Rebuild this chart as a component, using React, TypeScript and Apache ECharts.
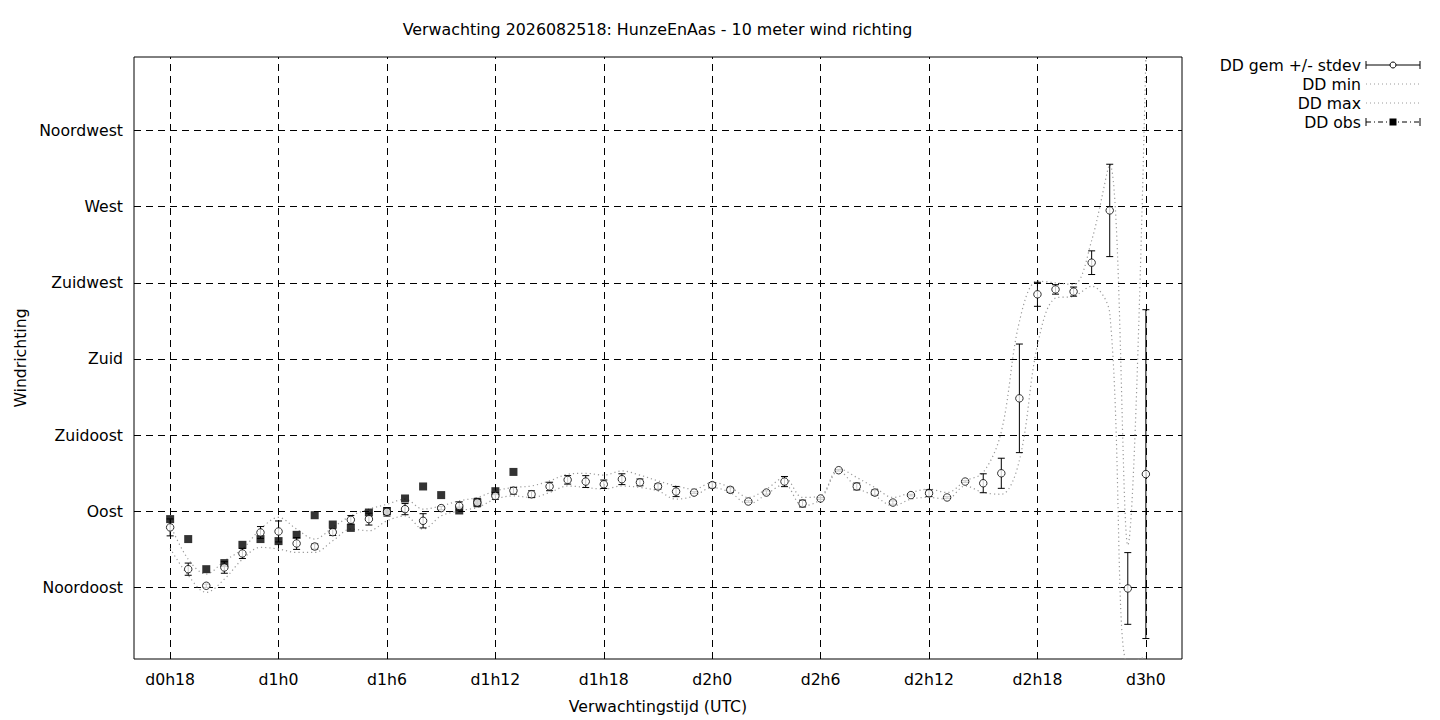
import { useEffect, useRef } from "react";
import * as echarts from "echarts";

const titleText = "Verwachting 2026082518: HunzeEnAas - 10 meter wind richting";

const hours = [
  18, 19, 20, 21, 22, 23, 24, 25, 26, 27, 28, 29, 30, 31, 32, 33, 34, 35, 36,
  37, 38, 39, 40, 41, 42, 43, 44, 45, 46, 47, 48, 49, 50, 51, 52, 53, 54, 55,
  56, 57, 58, 59, 60, 61, 62, 63, 64, 65, 66, 67, 68, 69, 70, 71, 72,
];

const ddGem = [
  80.4, 55.7, 45.9, 56.7, 65.0, 77.4, 78.0, 70.9, 69.1, 77.6, 84.9, 85.3, 89.6,
  91.2, 84.3, 91.8, 93.1, 95.1, 99.0, 102.1, 100.0, 104.6, 108.5, 107.5, 105.9,
  108.9, 107.0, 104.6, 101.6, 101.0, 105.4, 102.6, 95.7, 101.0, 107.5, 94.5,
  97.5, 114.2, 104.6, 101.0, 95.1, 99.5, 100.6, 98.1, 107.5, 106.5, 112.4,
  156.7, 218.2, 221.1, 219.8, 236.9, 267.8, 44.3, 111.9,
];

const ddStdev = [
  5.0, 3.6, 1.0, 3.4, 3.0, 3.5, 6.2, 3.5, 1.5, 2.0, 2.5, 3.5, 2.5, 3.3, 4.2,
  1.0, 2.4, 2.5, 2.0, 2.0, 2.0, 2.5, 2.5, 3.5, 2.5, 3.2, 2.0, 1.5, 3.0, 0.5,
  1.5, 1.5, 0.5, 1.0, 3.0, 2.0, 0.5, 0.5, 2.0, 1.5, 1.0, 0.5, 2.0, 0.5, 0.5,
  5.6, 8.9, 32.1, 7.1, 2.8, 2.7, 7.0, 27.3, 21.2, 97.2,
];

const ddMin = [
  68, 52, 42.0, 49.8, 61.6, 68.6, 67.6, 65.6, 65.6, 72.5, 79.4, 78.4, 84.3,
  87.2, 79.4, 87.2, 90.2, 92.2, 97.1, 99.0, 98.1, 101.0, 104.9, 104.0, 103.0,
  104.9, 104.0, 102.0, 97.1, 99.0, 104.0, 101.0, 94.1, 100.0, 105.9, 93.1,
  97.1, 113.8, 104.0, 99.0, 93.1, 97.1, 98.1, 97.1, 104.9, 101.0, 100.0, 120,
  188, 216, 217, 223, 207, 0, 4,
];

const ddMax = [
  82, 61.6, 52.8, 60.6, 67.6, 79.4, 86.3, 79.4, 73.5, 80.4, 87.2, 91.2, 94.1,
  97.1, 91.2, 93.1, 96.1, 98.1, 102.0, 104.0, 104.9, 107.9, 111.8, 112.4,
  111.3, 113.8, 111.3, 107.9, 104.9, 103.0, 107.0, 104.0, 98.1, 103.0, 109.9,
  98.1, 99.0, 115.2, 109.9, 104.0, 98.1, 101.0, 103.0, 101.0, 107.9, 112.9,
  137, 202, 226, 225, 224, 250, 295, 70, 359,
];

const obsHours = [
  18, 19, 20, 21, 22, 23, 24, 25, 26, 27, 28, 29, 30, 31, 32, 33, 34, 35, 36, 37,
];
const ddObs = [
  85.3, 73.5, 55.7, 59.3, 70.1, 73.5, 72.3, 76.0, 87.6, 82.1, 80.1, 89.2, 90.0,
  97.5, 104.6, 99.5, 90.4, 95.1, 101.8, 113.2,
];

const xTickHours = [18, 24, 30, 36, 42, 48, 54, 60, 66, 72];
const xTickLabels = [
  "d0h18", "d1h0", "d1h6", "d1h12", "d1h18", "d2h0", "d2h6", "d2h12", "d2h18", "d3h0",
];
const yTickValues = [45, 90, 135, 180, 225, 270, 315];
const yTickLabels = [
  "Noordoost", "Oost", "Zuidoost", "Zuid", "Zuidwest", "West", "Noordwest",
];

const legendNames = ["DD gem +/- stdev", "DD min", "DD max", "DD obs"];

const FONT = "DejaVu Sans";
const FS = 15.7;
const TITLE_FS = 15.85;
const DOT_COLOR = "#9a9a9a";

function buildOption() {
  const gemPoints = hours.map((h, i) => [h, ddGem[i]]);
  const errData = hours.map((h, i) => [h, ddGem[i] - ddStdev[i], ddGem[i] + ddStdev[i]]);
  const minPoints = hours.map((h, i) => [h, ddMin[i]]);
  const maxPoints = hours.map((h, i) => [h, ddMax[i]]);
  const obsPoints = obsHours.map((h, i) => [h, ddObs[i]]);

  const textStyle = { fontFamily: FONT, fontSize: FS, color: "#000" };

  const legendX = 1361;
  const sampleL = 1366;
  const sampleR = 1420;
  const sampleC = 1393;
  const rowY = [65, 84, 103, 122];

  const legendGraphics: any[] = [];
  legendNames.forEach((name, i) => {
    legendGraphics.push({
      type: "text",
      silent: true,
      style: {
        text: name,
        x: legendX,
        y: rowY[i],
        align: "right",
        verticalAlign: "middle",
        fontFamily: FONT,
        fontSize: FS,
        fill: "#000",
      },
    });
  });
  legendGraphics.push(
    { type: "line", silent: true, shape: { x1: sampleL, y1: rowY[0], x2: sampleR, y2: rowY[0] }, style: { stroke: "#000", lineWidth: 1 } },
    { type: "line", silent: true, shape: { x1: sampleL, y1: rowY[0] - 4, x2: sampleL, y2: rowY[0] + 4 }, style: { stroke: "#000", lineWidth: 1 } },
    { type: "line", silent: true, shape: { x1: sampleR, y1: rowY[0] - 4, x2: sampleR, y2: rowY[0] + 4 }, style: { stroke: "#000", lineWidth: 1 } },
    { type: "circle", silent: true, shape: { cx: sampleC, cy: rowY[0], r: 3 }, style: { fill: "#fff", stroke: "#000", lineWidth: 1 } },
    { type: "line", silent: true, shape: { x1: sampleL, y1: rowY[1], x2: sampleR, y2: rowY[1] }, style: { stroke: DOT_COLOR, lineWidth: 1, lineDash: [1, 3] } },
    { type: "line", silent: true, shape: { x1: sampleL, y1: rowY[2], x2: sampleR, y2: rowY[2] }, style: { stroke: DOT_COLOR, lineWidth: 1, lineDash: [1, 3] } },
    { type: "line", silent: true, shape: { x1: sampleL, y1: rowY[3], x2: sampleR, y2: rowY[3] }, style: { stroke: "#000", lineWidth: 1, lineDash: [5, 3, 1, 3] } },
    { type: "line", silent: true, shape: { x1: sampleL, y1: rowY[3] - 4, x2: sampleL, y2: rowY[3] + 4 }, style: { stroke: "#000", lineWidth: 1 } },
    { type: "line", silent: true, shape: { x1: sampleR, y1: rowY[3] - 4, x2: sampleR, y2: rowY[3] + 4 }, style: { stroke: "#000", lineWidth: 1 } },
    { type: "rect", silent: true, shape: { x: sampleC - 3.5, y: rowY[3] - 3.5, width: 7, height: 7 }, style: { fill: "#000" } }
  );

  return {
    animation: false,
    backgroundColor: "#fff",
    textStyle: { fontFamily: FONT },
    grid: {
      left: 134,
      top: 57,
      width: 1048,
      height: 602,
      show: true,
      borderColor: "#000",
      borderWidth: 1,
      backgroundColor: "transparent",
      containLabel: false,
    },
    graphic: [
      {
        type: "text",
        silent: true,
        style: {
          text: titleText,
          x: 657.5,
          y: 29,
          align: "center",
          verticalAlign: "middle",
          fontFamily: FONT,
          fontSize: TITLE_FS,
          fill: "#000",
        },
      },
      ...legendGraphics,
    ],
    xAxis: {
      type: "value",
      min: 16,
      max: 74,
      name: "Verwachtingstijd (UTC)",
      nameLocation: "middle",
      nameGap: 39,
      nameTextStyle: textStyle,
      axisLine: { show: false },
      axisTick: { show: true, inside: true, length: 6, customValues: xTickHours, lineStyle: { color: "#000" } },
      axisLabel: {
        ...textStyle,
        margin: 12,
        customValues: xTickHours,
        formatter: (v: number) => {
          const i = xTickHours.indexOf(v);
          return i >= 0 ? xTickLabels[i] : "";
        },
      },
      splitLine: { show: false },
    },
    yAxis: {
      type: "value",
      min: 2.6,
      max: 358.5,
      name: "Windrichting",
      nameLocation: "middle",
      nameGap: 106,
      nameTextStyle: textStyle,
      axisLine: { show: false },
      axisTick: { show: true, inside: true, length: 6, customValues: yTickValues, lineStyle: { color: "#000" } },
      axisLabel: {
        ...textStyle,
        margin: 11,
        customValues: yTickValues,
        formatter: (v: number) => {
          const i = yTickValues.indexOf(v);
          return i >= 0 ? yTickLabels[i] : "";
        },
      },
      splitLine: { show: false },
    },
    series: [
      {
        name: "DD min",
        type: "line",
        data: minPoints,
        smooth: 0.35,
        symbol: "none",
        z: 3,
        clip: true,
        lineStyle: { color: DOT_COLOR, width: 1.2, type: [1.2, 3] },
        markLine: {
          silent: true,
          z: 1,
          symbol: ["none", "none"],
          label: { show: false },
          emphasis: { disabled: true },
          lineStyle: { color: "#000", width: 1, type: [7, 5] },
          data: [
            ...xTickHours.map((v) => ({ xAxis: v })),
            ...yTickValues.map((v) => ({ yAxis: v })),
          ],
        },
      },
      {
        name: "DD max",
        type: "line",
        data: maxPoints,
        smooth: 0.35,
        symbol: "none",
        z: 3,
        clip: true,
        lineStyle: { color: DOT_COLOR, width: 1.2, type: [1.2, 3] },
      },
      {
        name: "DD gem stdev",
        type: "custom",
        z: 4,
        clip: true,
        data: errData,
        renderItem: (params: any, api: any) => {
          const x = api.value(0);
          const lo = api.coord([x, api.value(1)]);
          const hi = api.coord([x, api.value(2)]);
          const cap = 3.5;
          const st = { stroke: "#000", lineWidth: 1 };
          return {
            type: "group",
            children: [
              { type: "line", shape: { x1: lo[0], y1: lo[1], x2: hi[0], y2: hi[1] }, style: st },
              { type: "line", shape: { x1: lo[0] - cap, y1: lo[1], x2: lo[0] + cap, y2: lo[1] }, style: st },
              { type: "line", shape: { x1: hi[0] - cap, y1: hi[1], x2: hi[0] + cap, y2: hi[1] }, style: st },
            ],
          };
        },
      },
      {
        name: "DD obs",
        type: "scatter",
        z: 5,
        data: obsPoints,
        symbol: "rect",
        symbolSize: 8,
        itemStyle: { color: "#000" },
      },
      {
        name: "DD gem",
        type: "scatter",
        z: 6,
        data: gemPoints,
        symbol: "circle",
        symbolSize: 7.5,
        itemStyle: { color: "#fff", borderColor: "#000", borderWidth: 1 },
      },
    ],
  };
}

export default function App() {
  const ref = useRef<HTMLDivElement>(null);
  useEffect(() => {
    if (!ref.current) return;
    const chart = echarts.init(ref.current, null, { renderer: "svg" });
    chart.setOption(buildOption() as any);
    return () => chart.dispose();
  }, []);
  return (
    <div
      ref={ref}
      style={{ position: "fixed", left: 0, top: 0, width: 1440, height: 720, background: "#fff" }}
    />
  );
}
